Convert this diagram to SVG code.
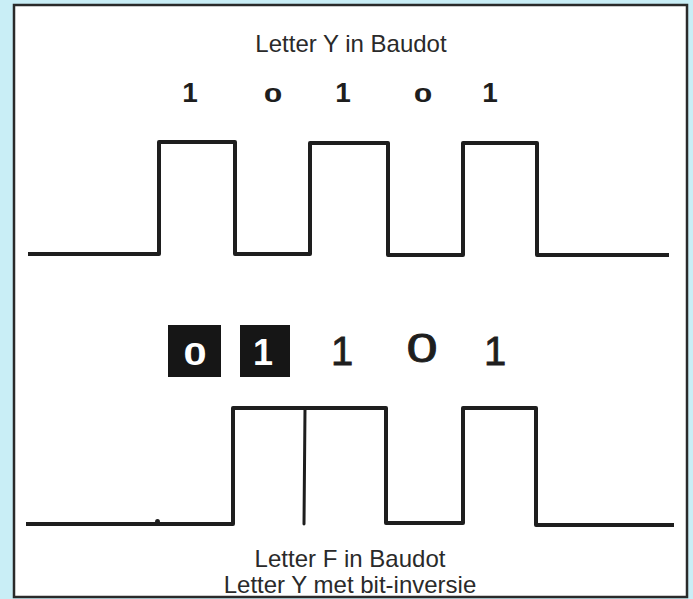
<svg xmlns="http://www.w3.org/2000/svg" width="693" height="599" viewBox="0 0 693 599">
  <style>
    .wave { fill: none; stroke: #1e1e1e; stroke-width: 4; stroke-linejoin: round; stroke-linecap: square; }
    .thin { fill: none; stroke: #1e1e1e; stroke-width: 3; stroke-linecap: round; }
    .label { font-family: "Liberation Sans", Arial, sans-serif; font-size: 24px; fill: #2a2a2a; text-anchor: middle; }
    .bitTop { font-family: "Liberation Sans", Arial, sans-serif; font-weight: bold; fill: #1e1e1e; text-anchor: middle; }
    .bitBot { font-family: "Liberation Sans", Arial, sans-serif; fill: #1e1e1e; text-anchor: middle; font-size: 40px; stroke: #1e1e1e; stroke-width: 0.8; }
    .inv { fill: #161616; }
    .invText { font-family: "Liberation Sans", Arial, sans-serif; font-weight: bold; fill: #ffffff; text-anchor: middle; }
  </style>
  <rect x="0" y="0" width="693" height="599" fill="#c9eef6"/>
  <rect id="panel" x="14" y="5" width="673" height="592" fill="#ffffff" stroke="#2a2a2a" stroke-width="2.5"/>

  <g id="top-title">
    <text class="label" x="351" y="52">Letter Y in Baudot</text>
  </g>

  <g id="top-bits">
    <text class="bitTop" x="190" y="102" font-size="28">1</text>
    <text class="bitTop" transform="translate(273,102) scale(1.6,1)" x="0" y="0" font-size="21">0</text>
    <text class="bitTop" x="343" y="102" font-size="28">1</text>
    <text class="bitTop" transform="translate(423,102) scale(1.6,1)" x="0" y="0" font-size="21">0</text>
    <text class="bitTop" x="490" y="102" font-size="28">1</text>
  </g>

  <g id="top-wave">
    <path class="wave" d="M30,254 H159 V142 H235 V254 H310 V143 H388 V255 H463 V143 H537 V255 H667"/>
  </g>

  <g id="bottom-bits">
    <g id="inverted-0">
      <rect class="inv" x="168" y="325" width="53" height="52"/>
      <text class="invText" transform="translate(195,365) scale(1.3,1)" x="0" y="0" font-size="32">0</text>
    </g>
    <g id="inverted-1">
      <rect class="inv" x="240" y="325" width="50" height="52"/>
      <text class="invText" x="263" y="365" font-size="36">1</text>
    </g>
    <text class="bitBot" x="342" y="365">1</text>
    <text class="bitBot" transform="translate(422,362) scale(1.4,1)" x="0" y="0" font-size="27">0</text>
    <text class="bitBot" x="495" y="365">1</text>
  </g>

  <g id="bottom-wave">
    <path class="wave" d="M28,524 H233 V408 H386 V523 H463 V408 H536 V525 H672"/>
    <path class="thin" d="M305,409 L304,524"/>
    <path d="M155,522 a2.5,3 0 0 1 5,0 z" fill="#1e1e1e"/>
  </g>

  <g id="bottom-title">
    <text class="label" x="350" y="567">Letter F in Baudot</text>
    <text class="label" x="350" y="593">Letter Y met bit-inversie</text>
  </g>
</svg>
